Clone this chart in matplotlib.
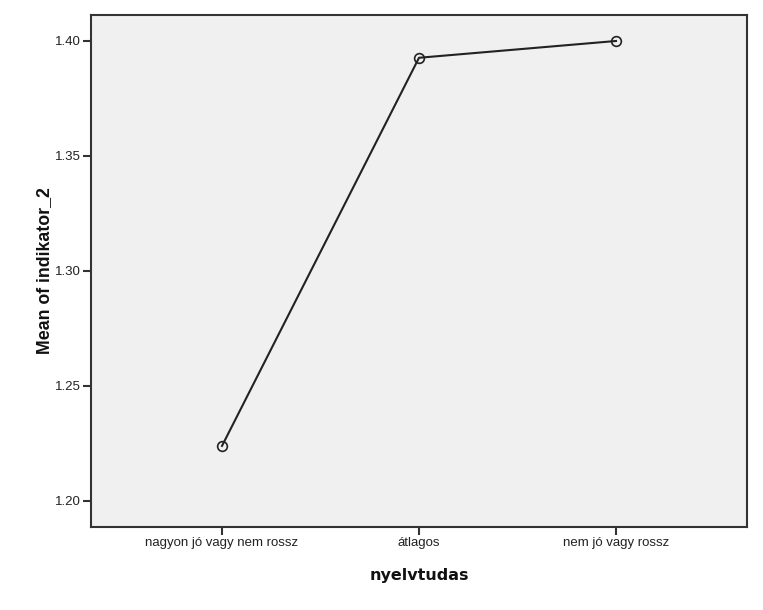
import matplotlib
matplotlib.use("Agg")
import matplotlib.pyplot as plt

categories = ["nagyon jó vagy nem rossz", "átlagos", "nem jó vagy rossz"]
means = [1.2239, 1.3927, 1.4000]
yticks = [1.20, 1.25, 1.30, 1.35, 1.40]

fig = plt.figure(figsize=(7.63, 6.10), dpi=100)
ax = fig.add_axes([0.1193, 0.136, 0.8597, 0.8394])
ax.set_facecolor("#f0f0f0")

x = list(range(len(categories)))
ax.plot(x, means, color="#222222", linewidth=1.5, marker="o", markersize=7,
        markerfacecolor="none", markeredgecolor="#222222", markeredgewidth=1.2)

ax.set_xlim(-0.665, 2.665)
ax.set_ylim(1.1886, 1.4113)
ax.set_xticks(x)
ax.set_xticklabels(categories, family="Liberation Sans", fontsize=9.5, color="#222222")
ax.set_yticks(yticks)
ax.set_yticklabels([f"{v:.2f}" for v in yticks], family="Liberation Sans",
                   fontsize=9.5, color="#222222")
ax.tick_params(direction="out", length=6, width=1.5, color="#333333", pad=1)

for sp in ax.spines.values():
    sp.set_color("#333333")
    sp.set_linewidth(1.5)

ax.set_xlabel("nyelvtudas", family="DejaVu Sans", fontweight="bold",
              fontsize=11.5, labelpad=14, color="#111111")
ax.set_ylabel("Mean of indikator_2", family="Liberation Sans", fontweight="bold",
              fontsize=12.8, labelpad=2, color="#111111")

fig.savefig("out.png", dpi=100)
plt.close(fig)
